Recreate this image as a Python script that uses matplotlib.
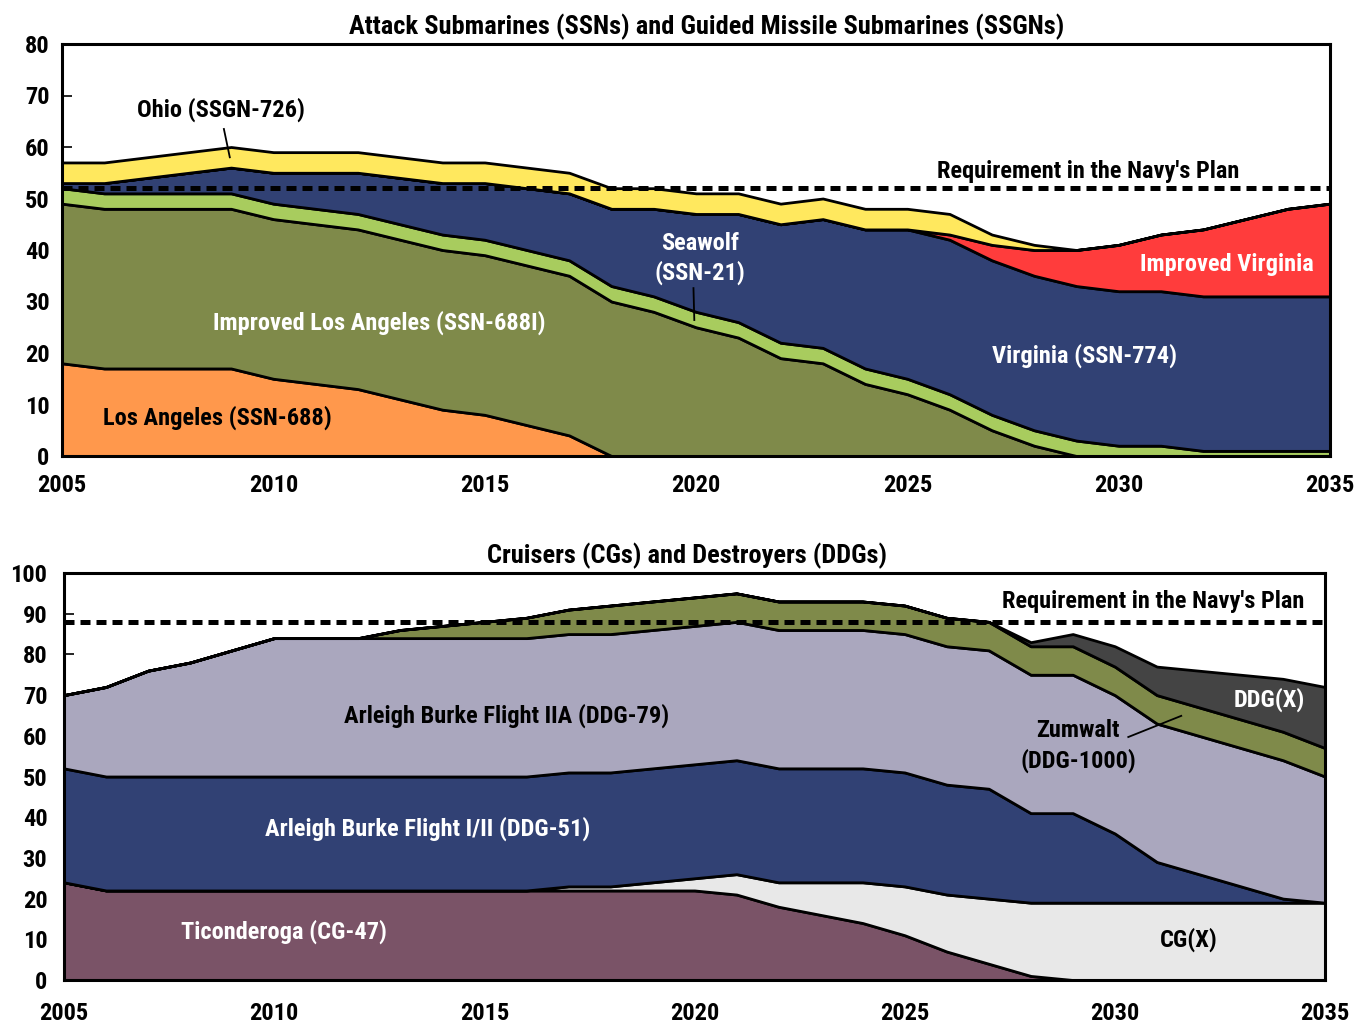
import matplotlib
matplotlib.use("Agg")
import matplotlib.pyplot as plt
from matplotlib import font_manager

available = {f.name for f in font_manager.fontManager.ttflist}
preferred = ['Liberation Sans Narrow', 'DejaVu Sans Condensed', 'Roboto Condensed',
             'Open Sans Condensed', 'Noto Sans Condensed', 'Arial Narrow', 'Roboto', 'Lato']
chosen = [f for f in preferred if f in available]
plt.rcParams['font.family'] = (chosen[:1] if chosen else []) + ['DejaVu Sans']
plt.rcParams['font.weight'] = 'bold'

years = list(range(2005, 2036))

# ---- Submarines (SSNs and SSGNs) ----
los_angeles = [18, 17, 17, 17, 17, 15, 14, 13, 11, 9, 8, 6, 4, 0, 0, 0, 0, 0, 0, 0,
               0, 0, 0, 0, 0, 0, 0, 0, 0, 0, 0]
improved_la = [31, 31, 31, 31, 31, 31, 31, 31, 31, 31, 31, 31, 31, 30, 28, 25, 23, 19, 18, 14,
               12, 9, 5, 2, 0, 0, 0, 0, 0, 0, 0]
seawolf = [3, 3, 3, 3, 3, 3, 3, 3, 3, 3, 3, 3, 3, 3, 3, 3, 3, 3, 3, 3,
           3, 3, 3, 3, 3, 2, 2, 1, 1, 1, 1]
virginia = [1, 2, 3, 4, 5, 6, 7, 8, 9, 10, 11, 12, 13, 15, 17, 19, 21, 23, 25, 27,
            29, 30, 30, 30, 30, 30, 30, 30, 30, 30, 30]
improved_virginia = [0, 0, 0, 0, 0, 0, 0, 0, 0, 0, 0, 0, 0, 0, 0, 0, 0, 0, 0, 0,
                     0, 1, 3, 5, 7, 9, 11, 13, 15, 17, 18]
ohio = [4, 4, 4, 4, 4, 4, 4, 4, 4, 4, 4, 4, 4, 4, 4, 4, 4, 4, 4, 4,
        4, 4, 2, 1, 0, 0, 0, 0, 0, 0, 0]
sub_requirement = 52

# ---- Cruisers and Destroyers ----
ticonderoga = [24, 22, 22, 22, 22, 22, 22, 22, 22, 22, 22, 22, 22, 22, 22, 22, 21, 18, 16, 14,
               11, 7, 4, 1, 0, 0, 0, 0, 0, 0, 0]
cgx = [0, 0, 0, 0, 0, 0, 0, 0, 0, 0, 0, 0, 1, 1, 2, 3, 5, 6, 8, 10,
       12, 14, 16, 18, 19, 19, 19, 19, 19, 19, 19]
burke_flight_1_2 = [28, 28, 28, 28, 28, 28, 28, 28, 28, 28, 28, 28, 28, 28, 28, 28, 28, 28, 28, 28,
                    28, 27, 27, 22, 22, 17, 10, 7, 4, 1, 0]
burke_flight_2a = [18, 22, 26, 28, 31, 34, 34, 34, 34, 34, 34, 34, 34, 34, 34, 34, 34, 34, 34, 34,
                   34, 34, 34, 34, 34, 34, 34, 34, 34, 34, 31]
zumwalt = [0, 0, 0, 0, 0, 0, 0, 0, 2, 3, 4, 5, 6, 7, 7, 7, 7, 7, 7, 7,
           7, 7, 7, 7, 7, 7, 7, 7, 7, 7, 7]
ddgx = [0, 0, 0, 0, 0, 0, 0, 0, 0, 0, 0, 0, 0, 0, 0, 0, 0, 0, 0, 0,
        0, 0, 0, 1, 3, 5, 7, 9, 11, 13, 15]
ship_requirement = 88

sub_colors = ['#FF984C', '#7F8A4A', '#A8CC5E', '#314174', '#FF3C3C', '#FFE85E']
ship_colors = ['#7A5367', '#E8E8E8', '#314174', '#AAA7BE', '#7F8A4A', '#444444']

fig = plt.figure(figsize=(13.57, 10.26), dpi=100)

ax1 = fig.add_axes([62/1357, 1-456/1026, (1330-62)/1357, (456-44)/1026])
ax2 = fig.add_axes([64/1357, 1-980/1026, (1325-64)/1357, (980-573)/1026])

ax1.stackplot(years, los_angeles, improved_la, seawolf, virginia, improved_virginia, ohio,
              colors=sub_colors, edgecolor='black', linewidth=2.0, zorder=2)
ax2.stackplot(years, ticonderoga, cgx, burke_flight_1_2, burke_flight_2a, zumwalt, ddgx,
              colors=ship_colors, edgecolor='black', linewidth=2.0, zorder=2)

ax1.axhline(sub_requirement, color='black', lw=3.6, dashes=(2.0, 1.2), zorder=5)
ax2.axhline(ship_requirement, color='black', lw=3.6, dashes=(2.0, 1.2), zorder=5)

narrow = bool(chosen) and chosen[0] not in ('Roboto', 'Lato')
fs = 17.6 if narrow else 14.5
tfs = 19 if narrow else 15.5

for ax, ymax, step in [(ax1, 80, 10), (ax2, 100, 10)]:
    ax.set_xlim(2005, 2035)
    ax.set_ylim(0, ymax)
    ax.set_xticks(range(2005, 2036, 5))
    ax.set_yticks(range(0, ymax + 1, step))
    for s in ax.spines.values():
        s.set_linewidth(2.2)
        s.set_zorder(6)
    ax.tick_params(axis='both', direction='in', length=7, width=1.2, labelsize=fs)
    ax.tick_params(axis='x', pad=13)
    ax.tick_params(axis='y', pad=9)
    for lab in ax.get_xticklabels() + ax.get_yticklabels():
        lab.set_fontweight('bold')
ax2.tick_params(axis='x', pad=16)
ax2.tick_params(axis='y', pad=12)

ax1.set_title('Attack Submarines (SSNs) and Guided Missile Submarines (SSGNs)',
              fontsize=tfs, fontweight='bold', pad=7, x=0.508)
ax2.set_title('Cruisers (CGs) and Destroyers (DDGs)',
              fontsize=tfs, fontweight='bold', pad=7, x=0.494)

kw = dict(fontsize=fs, fontweight='bold', ha='center', va='center', zorder=7)
# top chart labels
ax1.text(2008.75, 67.3, 'Ohio (SSGN-726)', color='black', **kw)
ax1.plot([2008.83, 2008.97], [63.5, 58.0], color='black', lw=1.3, zorder=7)
ax1.text(2029.27, 55.3, "Requirement in the Navy's Plan", color='black', **kw)
ax1.text(2020.1, 38.4, 'Seawolf\n(SSN-21)', color='white', linespacing=1.3, **kw)
ax1.plot([2019.94, 2019.96], [32.6, 26.4], color='black', lw=1.3, zorder=7)
ax1.text(2012.5, 25.8, 'Improved Los Angeles (SSN-688I)', color='white', **kw)
ax1.text(2008.67, 7.4, 'Los Angeles (SSN-688)', color='black', **kw)
ax1.text(2029.18, 19.4, 'Virginia (SSN-774)', color='white', **kw)
ax1.text(2032.56, 37.1, 'Improved Virginia', color='white', **kw)

# bottom chart labels
ax2.text(2015.52, 64.9, 'Arleigh Burke Flight IIA (DDG-79)', color='black', **kw)
ax2.text(2013.66, 37.1, 'Arleigh Burke Flight I/II (DDG-51)', color='white', **kw)
ax2.text(2010.23, 11.8, 'Ticonderoga (CG-47)', color='white', **kw)
ax2.text(2031.77, 9.8, 'CG(X)', color='black', **kw)
ax2.text(2029.13, 57.5, 'Zumwalt\n(DDG-1000)', color='black', linespacing=1.3, **kw)
ax2.plot([2030.32, 2031.58], [59.7, 64.9], color='black', lw=1.3, zorder=7)
ax2.text(2033.67, 68.8, 'DDG(X)', color='white', **kw)
ax2.text(2030.91, 93.1, "Requirement in the Navy's Plan", color='black', **kw)

fig.savefig('out.png', dpi=100)
